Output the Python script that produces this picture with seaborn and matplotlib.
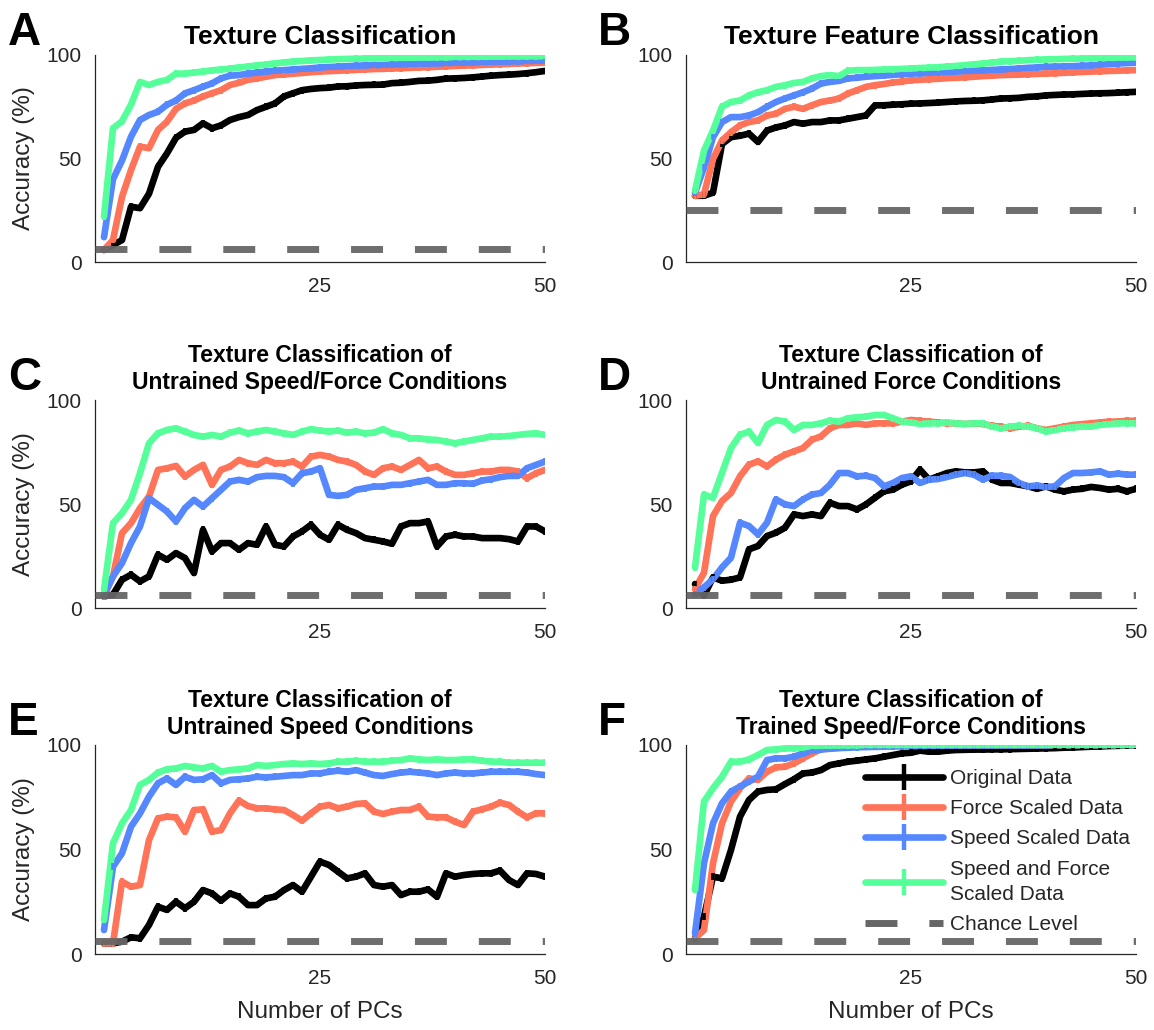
import matplotlib
matplotlib.use("Agg")
import matplotlib.pyplot as plt
import pandas as pd
import seaborn as sns
from matplotlib.lines import Line2D

sns.set_theme(style="white")
plt.rcParams['font.family'] = ['Liberation Sans', 'DejaVu Sans']
plt.rcParams['lines.scale_dashes'] = False

n_pcs = list(range(1, 51))

series_names = ["Original Data", "Force Scaled Data", "Speed Scaled Data",
                "Speed and Force\nScaled Data"]
series_colors = ["#000000", "#FF7358", "#5588FF", "#55FF99"]
chance_color = "#666666"

titles = ["Texture Classification",
          "Texture Feature Classification",
          "Texture Classification of\nUntrained Speed/Force Conditions",
          "Texture Classification of\nUntrained Force Conditions",
          "Texture Classification of\nUntrained Speed Conditions",
          "Texture Classification of\nTrained Speed/Force Conditions"]
panel_letters = ["A", "B", "C", "D", "E", "F"]
chance_levels = [6.25, 25.0, 6.25, 6.25, 6.25, 6.25]
err_half = 1.6

# ---------------- Panel A ----------------
A_black = [5.8, 8.2, 10.6, 26.7, 26.0, 33.0, 46.0, 52.5, 60.0, 63.0, 63.8, 67.0, 64.6, 66.0, 68.6, 70.0, 71.0, 73.4, 75.0, 76.6,
           80.0, 81.5, 83.0, 83.6, 84.0, 84.2, 84.8, 84.9, 85.3, 85.5, 85.6, 85.7, 86.4, 86.6, 87.0, 87.5, 87.6, 88.0, 88.6, 88.7,
           88.9, 89.2, 89.6, 90.0, 90.3, 90.5, 90.8, 91.2, 91.7, 92.3]
A_red = [5.8, 10.6, 31.5, 44.4, 55.7, 55.0, 63.8, 67.8, 74.0, 76.6, 78.0, 80.0, 81.5, 83.0, 85.5, 86.6, 88.0, 88.7, 89.5, 90.3,
         90.6, 91.0, 91.3, 91.7, 92.0, 92.2, 92.4, 92.6, 92.8, 93.0, 93.2, 93.3, 93.5, 93.6, 93.8, 94.0, 94.1, 94.3, 94.5, 94.7,
         94.9, 95.0, 95.2, 95.4, 95.5, 95.7, 95.9, 96.0, 96.2, 96.3]
A_blue = [12.0, 40.0, 49.0, 60.5, 68.6, 71.0, 72.6, 76.0, 78.0, 81.5, 83.0, 84.7, 86.3, 88.7, 90.0, 90.3, 91.0, 91.5, 92.0, 92.4,
          92.7, 93.0, 93.3, 93.6, 94.0, 94.2, 94.4, 94.6, 94.8, 95.0, 95.1, 95.2, 95.4, 95.5, 95.6, 95.8, 95.9, 96.0, 96.1, 96.3,
          96.4, 96.5, 96.6, 96.7, 96.8, 96.9, 97.0, 97.1, 97.2, 97.3]
A_green = [22.0, 64.6, 68.0, 76.0, 87.0, 85.5, 87.0, 88.0, 91.0, 91.0, 91.5, 92.0, 92.6, 93.0, 93.4, 94.0, 94.4, 95.0, 95.4, 96.0,
           96.4, 96.8, 97.1, 97.4, 97.6, 97.8, 98.0, 98.1, 98.2, 98.3, 98.4, 98.5, 98.6, 98.6, 98.7, 98.8, 98.8, 98.9, 98.9, 99.0,
           99.0, 99.1, 99.1, 99.2, 99.2, 99.3, 99.3, 99.4, 99.4, 99.5]

# ---------------- Panel B ----------------
B_black = [32.0, 32.0, 33.5, 57.0, 60.3, 61.0, 62.0, 58.0, 63.5, 65.0, 66.0, 67.6, 66.8, 67.6, 67.6, 68.4, 68.4, 69.2, 70.0, 70.8,
           75.7, 75.7, 76.0, 76.2, 76.5, 76.6, 76.8, 77.0, 77.3, 77.6, 77.8, 77.9, 78.1, 78.5, 79.0, 79.1, 79.3, 79.8, 80.0, 80.5,
           80.7, 80.9, 81.0, 81.2, 81.4, 81.5, 81.6, 81.8, 82.0, 82.2]
B_red = [32.0, 32.7, 49.8, 58.7, 62.7, 66.0, 67.6, 68.4, 70.8, 71.6, 74.0, 75.0, 74.0, 75.7, 77.3, 78.0, 79.0, 81.4, 83.0, 84.6,
         85.4, 86.0, 86.7, 87.2, 87.8, 88.0, 88.3, 88.5, 88.8, 89.0, 89.2, 89.5, 89.8, 90.0, 90.3, 90.4, 90.5, 90.7, 90.9, 91.0,
         91.2, 91.4, 91.6, 91.8, 92.0, 92.1, 92.3, 92.4, 92.6, 92.7]
B_blue = [33.5, 45.7, 60.3, 67.6, 70.0, 70.0, 70.8, 72.4, 75.0, 77.3, 79.0, 80.5, 82.0, 83.8, 86.2, 87.0, 87.5, 88.7, 89.0, 89.5,
          89.8, 90.1, 90.4, 90.7, 91.0, 91.2, 91.4, 91.6, 91.8, 92.0, 92.2, 92.4, 92.6, 92.8, 93.0, 93.2, 93.5, 93.8, 94.0, 94.3,
          94.4, 94.5, 94.6, 94.8, 95.0, 95.3, 95.6, 95.9, 96.1, 96.3]
B_green = [34.4, 53.8, 63.5, 75.0, 77.3, 78.0, 80.5, 82.0, 83.0, 84.6, 85.4, 86.5, 87.0, 88.7, 89.8, 90.3, 89.8, 92.4, 92.7, 92.7,
           92.8, 93.0, 93.1, 93.3, 93.5, 93.7, 93.9, 94.1, 94.4, 94.7, 95.1, 95.5, 95.9, 96.3, 96.8, 97.0, 97.2, 97.5, 97.7, 97.9,
           98.0, 98.1, 98.2, 98.3, 98.4, 98.5, 98.6, 98.7, 98.8, 98.9]

# ---------------- Panel C ----------------
C_black = [5.6, 6.4, 13.6, 16.0, 12.8, 15.2, 25.6, 23.2, 26.4, 24.0, 16.8, 37.6, 27.2, 31.2, 31.2, 28.0, 31.2, 30.4, 39.2, 30.4,
           29.6, 34.4, 36.8, 40.0, 35.2, 32.8, 40.0, 37.6, 36.0, 33.6, 32.8, 32.0, 30.9, 39.2, 40.8, 40.8, 41.6, 29.6, 34.4, 35.2,
           34.4, 34.4, 33.6, 33.6, 33.6, 33.1, 32.0, 39.2, 39.2, 36.8]
C_red = [5.6, 15.2, 36.0, 40.8, 48.0, 53.6, 66.4, 67.2, 68.3, 63.2, 66.4, 68.8, 59.2, 66.4, 68.0, 71.2, 69.6, 68.8, 71.2, 69.6,
         69.6, 70.4, 68.0, 72.8, 73.6, 72.8, 71.2, 70.4, 68.8, 65.6, 64.0, 67.2, 68.0, 66.4, 68.8, 71.2, 67.2, 68.0, 65.6, 64.0,
         64.0, 64.8, 65.6, 65.6, 66.4, 66.4, 65.6, 62.4, 64.8, 66.4]
C_blue = [6.4, 15.2, 21.6, 31.2, 39.2, 52.8, 49.6, 46.4, 41.6, 48.0, 52.0, 48.8, 52.8, 56.8, 60.8, 61.6, 60.8, 62.9, 63.5, 63.5,
          62.9, 60.0, 64.8, 65.6, 67.2, 54.4, 53.9, 54.4, 56.8, 57.6, 58.4, 58.4, 59.2, 59.2, 60.0, 60.8, 61.6, 59.2, 59.2, 60.0,
          60.0, 59.7, 61.3, 61.9, 62.9, 63.5, 63.5, 67.2, 68.8, 70.4]
C_green = [8.8, 40.8, 45.6, 52.0, 64.8, 79.2, 84.0, 85.6, 86.4, 84.8, 83.2, 82.4, 83.2, 82.4, 84.3, 85.3, 84.0, 84.8, 85.6, 84.8,
           84.0, 83.2, 84.8, 86.0, 85.3, 84.8, 85.3, 84.3, 84.8, 84.0, 84.3, 86.0, 84.0, 83.2, 81.6, 81.6, 81.0, 80.8, 80.0, 79.2,
           80.0, 80.8, 81.6, 82.4, 82.4, 82.7, 83.2, 83.7, 84.0, 83.2]

# ---------------- Panel D ----------------
D_black = [11.5, 5.9, 14.7, 13.1, 13.6, 14.7, 28.2, 29.8, 34.6, 36.2, 38.6, 45.0, 44.2, 45.0, 44.2, 50.6, 49.0, 49.0, 47.4, 49.8,
           53.0, 56.1, 56.9, 59.3, 60.9, 66.5, 61.7, 63.3, 64.9, 65.7, 65.2, 65.2, 65.7, 61.7, 60.1, 60.1, 59.3, 58.5, 57.3, 58.5,
           56.9, 56.1, 56.9, 57.3, 58.2, 57.7, 56.9, 57.3, 56.1, 57.3]
D_red = [9.1, 17.0, 44.2, 51.4, 55.3, 63.3, 68.9, 70.5, 68.1, 71.3, 73.7, 75.3, 76.9, 80.9, 82.5, 86.4, 88.0, 88.0, 88.8, 88.0,
         88.8, 88.8, 88.8, 89.6, 90.4, 90.0, 89.6, 89.2, 88.8, 88.8, 88.4, 88.8, 88.4, 87.6, 87.2, 86.4, 87.2, 87.6, 86.4, 85.6,
         86.4, 87.2, 88.0, 88.4, 88.8, 89.2, 89.6, 89.6, 90.0, 90.0]
D_blue = [6.7, 9.9, 13.9, 19.5, 24.2, 41.0, 39.4, 35.4, 41.0, 52.2, 49.8, 49.0, 52.2, 54.5, 55.3, 59.3, 64.9, 64.9, 63.3, 63.6,
          62.5, 58.5, 60.1, 62.5, 63.3, 60.1, 61.7, 62.0, 63.0, 64.1, 64.9, 64.1, 61.7, 63.6, 63.6, 63.0, 60.1, 58.5, 58.9, 58.2,
          58.5, 62.5, 64.9, 64.9, 65.2, 65.7, 64.1, 64.6, 64.1, 64.1]
D_green = [19.5, 54.5, 53.0, 65.0, 76.9, 83.3, 84.8, 79.3, 88.0, 90.4, 89.6, 85.6, 88.0, 88.0, 88.8, 90.1, 89.6, 91.2, 91.7, 92.0,
           92.8, 92.8, 91.2, 89.6, 89.2, 88.5, 88.8, 88.8, 89.2, 88.8, 88.5, 88.8, 88.8, 87.2, 86.4, 87.2, 87.6, 87.2, 86.4, 84.8,
           85.6, 86.4, 86.9, 87.2, 87.2, 88.0, 88.4, 88.8, 88.8, 88.8]

# ---------------- Panel E ----------------
E_black = [5.1, 5.1, 5.9, 8.0, 7.5, 13.9, 22.6, 21.1, 25.0, 21.9, 25.0, 30.6, 29.0, 25.5, 29.0, 27.4, 23.4, 23.4, 26.6, 27.4,
           30.6, 33.0, 29.8, 37.0, 44.2, 42.6, 39.4, 36.2, 37.0, 38.6, 33.0, 32.2, 33.0, 28.2, 29.8, 29.8, 30.9, 27.4, 38.6, 37.0,
           37.8, 38.3, 38.6, 38.6, 39.9, 35.4, 33.0, 38.6, 38.3, 37.0]
E_red = [5.1, 5.1, 34.6, 32.2, 33.0, 54.5, 64.9, 65.7, 65.4, 58.5, 68.9, 69.2, 58.5, 59.3, 67.3, 73.4, 70.8, 69.7, 69.7, 69.2,
         68.9, 66.5, 63.8, 67.3, 70.5, 71.3, 69.7, 70.5, 71.8, 72.1, 68.1, 67.0, 68.1, 68.9, 68.9, 70.5, 65.7, 65.4, 65.4, 63.3,
         61.7, 68.1, 69.2, 70.5, 72.4, 71.3, 68.1, 65.4, 67.3, 67.3]
E_blue = [11.5, 41.8, 48.2, 60.9, 67.3, 75.3, 81.7, 84.0, 80.9, 84.8, 83.3, 83.6, 85.6, 81.7, 83.3, 83.6, 84.0, 84.8, 84.5, 84.8,
          85.2, 85.6, 85.6, 86.4, 86.4, 87.2, 87.7, 87.2, 88.0, 86.8, 85.6, 85.2, 86.1, 86.8, 87.2, 86.8, 86.4, 85.6, 86.4, 86.8,
          86.4, 86.4, 86.8, 87.2, 87.2, 87.2, 87.2, 86.8, 86.1, 85.6]
E_green = [16.3, 53.0, 62.5, 68.9, 80.9, 83.3, 86.8, 88.4, 88.8, 90.0, 89.3, 88.8, 90.0, 87.2, 88.0, 88.4, 88.8, 90.4, 90.0, 90.4,
           90.9, 91.2, 90.9, 91.2, 90.9, 91.2, 92.0, 92.0, 92.5, 92.0, 92.0, 92.0, 92.5, 92.8, 93.6, 93.1, 92.8, 93.1, 92.8, 92.8,
           93.1, 93.1, 92.5, 92.0, 92.0, 91.5, 91.5, 91.5, 91.5, 91.5]

# ---------------- Panel F ----------------
F_black = [7.5, 17.9, 37.0, 36.2, 49.8, 65.7, 73.7, 77.7, 78.5, 78.8, 81.3, 83.6, 86.4, 86.8, 88.0, 90.4, 91.2, 92.0, 92.5, 93.1,
           93.6, 94.4, 95.2, 96.0, 96.3, 97.3, 96.8, 96.8, 97.3, 97.6, 97.7, 97.8, 97.8, 97.9, 97.9, 98.0, 98.1, 98.2, 98.3, 98.4,
           98.5, 98.7, 98.8, 99.0, 99.2, 99.3, 99.5, 99.6, 99.7, 99.8]
F_red = [7.5, 11.5, 43.4, 62.5, 72.9, 79.3, 84.0, 83.3, 87.2, 89.3, 89.6, 91.2, 93.6, 96.0, 97.9, 98.4, 98.7, 99.0, 99.2, 99.3,
         99.4, 99.5, 99.5, 99.6, 99.6, 99.7, 99.7, 99.7, 99.8, 99.8, 99.8, 99.8, 99.9, 99.9, 99.9, 99.9, 99.9, 99.9, 99.9, 99.9,
         100.0, 100.0, 100.0, 100.0, 100.0, 100.0, 100.0, 100.0, 100.0, 100.0]
F_blue = [9.9, 43.4, 62.5, 72.1, 77.7, 80.1, 82.5, 84.8, 92.8, 93.6, 93.6, 94.4, 96.0, 97.3, 97.9, 98.2, 98.5, 98.7, 98.9, 99.0,
          99.1, 99.2, 99.3, 99.4, 99.5, 99.5, 99.6, 99.6, 99.7, 99.7, 99.8, 99.8, 99.8, 99.8, 99.9, 99.9, 99.9, 99.9, 99.9, 99.9,
          100.0, 100.0, 100.0, 100.0, 100.0, 100.0, 100.0, 100.0, 100.0, 100.0]
F_green = [30.6, 72.9, 79.3, 84.8, 92.0, 92.0, 93.1, 95.2, 97.6, 97.9, 98.4, 98.4, 98.9, 99.5, 99.7, 99.8, 99.8, 99.9, 99.9, 100.0,
           100.0, 100.0, 100.0, 100.0, 100.0, 100.0, 100.0, 100.0, 100.0, 100.0, 100.0, 100.0, 100.0, 100.0, 100.0, 100.0, 100.0,
           100.0, 100.0, 100.0, 100.0, 100.0, 100.0, 100.0, 100.0, 100.0, 100.0, 100.0, 100.0, 100.0]

panels = [
    [A_black, A_red, A_blue, A_green],
    [B_black, B_red, B_blue, B_green],
    [C_black, C_red, C_blue, C_green],
    [D_black, D_red, D_blue, D_green],
    [E_black, E_red, E_blue, E_green],
    [F_black, F_red, F_blue, F_green],
]

W, H = 1154, 1030
fig = plt.figure(figsize=(W / 100, H / 100), dpi=100)
fig.patch.set_facecolor("white")

col_left = [95, 686]
ax_w = 450
row_top = [55, 400, 745]
row_bot = [262, 608, 954]
letter_xy = [(8, 45), (598, 45), (8, 390), (598, 390), (8, 735), (598, 735)]

tick_color = "#262626"
tick_size = 15
lab_size = 17.5

for i, series in enumerate(panels):
    r, c = divmod(i, 2)
    left = col_left[c]
    ax = fig.add_axes([left / W, 1 - row_bot[r] / H, ax_w / W, (row_bot[r] - row_top[r]) / H])
    rows = []
    for name, vals in zip(series_names, series):
        for n, v in zip(n_pcs, vals):
            rows.append({"pc": n, "acc": v, "series": name})
    df = pd.DataFrame(rows)
    sns.lineplot(data=df, x="pc", y="acc", hue="series", hue_order=series_names,
                 palette=series_colors, linewidth=4.8, legend=False, ax=ax, zorder=2)
    for name, vals, col in zip(series_names, series, series_colors):
        ax.errorbar(n_pcs, vals, yerr=err_half, fmt="none", ecolor=col, elinewidth=2.6,
                    capsize=0, zorder=2)
    ax.plot([0, 50], [chance_levels[i], chance_levels[i]], color=chance_color, lw=5,
            dashes=(23, 23), dash_capstyle="butt", solid_capstyle="butt", zorder=6, alpha=0.95)

    ax.set_xlim(0, 50)
    ax.set_ylim(0, 100)
    ax.set_xticks([25, 50])
    ax.set_yticks([0, 50, 100])
    ax.tick_params(axis="both", direction="in", length=5, width=0.9, colors=tick_color,
                   labelsize=tick_size, labelcolor=tick_color)
    ax.tick_params(axis="y", pad=9.5)
    ax.tick_params(axis="x", pad=11)
    for s in ["top", "right"]:
        ax.spines[s].set_visible(False)
    for s in ["left", "bottom"]:
        ax.spines[s].set_color(tick_color)
        ax.spines[s].set_linewidth(0.9)
    ax.set_xlabel("")
    ax.set_ylabel("")
    title_size = 19 if "\n" not in titles[i] else 16.5
    ax.set_title(titles[i], fontsize=title_size, fontweight="bold", pad=8, color="black")
    if c == 0:
        ax.set_ylabel("Accuracy (%)", fontsize=lab_size, color=tick_color)
        ax.yaxis.set_label_coords(-0.133, 0.5)
    if r == 2:
        ax.set_xlabel("Number of PCs", fontsize=lab_size, color=tick_color)
        ax.xaxis.set_label_coords(0.5, -0.225)
    lx, ly = letter_xy[i]
    fig.text(lx / W, 1 - ly / H, panel_letters[i], fontsize=33, fontweight="bold",
             va="baseline", ha="left", color="black")

    if i == 5:
        handles = []
        for col in series_colors:
            handles.append(Line2D([0], [0], color=col, lw=4.8, marker="|", markersize=19,
                                  markeredgewidth=3.2))
        handles.append(Line2D([0], [0], color=chance_color, lw=5, dashes=(23, 23),
                              dash_capstyle="butt"))
        labels = series_names + ["Chance Level"]
        leg = ax.legend(handles, labels, loc="upper left",
                        bbox_to_anchor=(865 / W, 1 - 769 / H), bbox_transform=fig.transFigure,
                        frameon=False, fontsize=15, handlelength=3.75, handletextpad=0.35,
                        labelspacing=0.54, borderpad=0, borderaxespad=0)
        for t in leg.get_texts():
            t.set_linespacing(1.42)

fig.savefig("out.png", dpi=100, facecolor="white")
